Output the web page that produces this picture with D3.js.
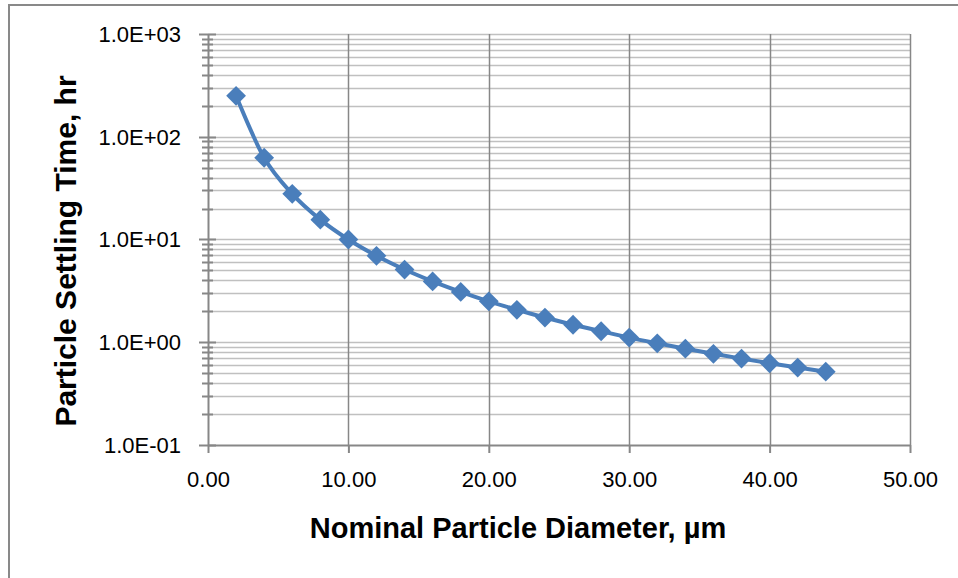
<!doctype html>
<html>
<head>
  <style type="text/css">
    body { margin: 0; background: #fff; }
    svg { display: block; }
    text { font-family: "Liberation Sans", Arial, sans-serif; fill: #000; }
    .tick-label { font-size: 22px; }
    .title { font-weight: bold; }
  </style>
  <title>Particle Settling Time</title>
</head>
<body>
<svg class="chart"></svg>

<script type="text/javascript" src="https://cdnjs.cloudflare.com/ajax/libs/d3/7.8.5/d3.min.js"></script>
<script type="text/javascript">

var width = 958,
    height = 578,
    margin = { top: 34, right: 48, bottom: 133, left: 208 },
    plotW = 910 - margin.left,
    plotH = 445 - margin.top;

// data
var diameters = [2, 4, 6, 8, 10, 12, 14, 16, 18, 20, 22, 24, 26, 28, 30, 32, 34, 36, 38, 40, 42, 44];
var settlingHours = [250, 62.5, 27.8, 15.6, 10.0, 6.94, 5.10, 3.91, 3.09, 2.50, 2.07, 1.74, 1.48, 1.28, 1.11, 0.977, 0.865, 0.772, 0.693, 0.625, 0.567, 0.517];
var xTicks = [0, 10, 20, 30, 40, 50];
var yTicks = [0.1, 1, 10, 100, 1000];
var xTitle = "Nominal Particle Diameter, \u00b5m";
var yTitle = "Particle Settling Time, hr";

var points = diameters.map(function(d, i) { return { x: d, y: settlingHours[i] }; });

var svg = d3.select(".chart")
  .attr("width", width)
  .attr("height", height);

// outer chart border
svg.append("rect")
  .attr("x", 9).attr("y", 5)
  .attr("width", width).attr("height", height)
  .attr("fill", "none")
  .attr("stroke", "#898989")
  .attr("stroke-width", 2);

var chart = svg.append("g")
  .attr("transform", "translate(" + margin.left + "," + margin.top + ")");

var x = d3.scaleLinear().domain([0, 50]).range([0, plotW]);
var y = d3.scaleLog().domain([0.1, 1000]).range([plotH, 0]);

// minor values 2..9 per decade
var minor = [];
for (var e = -1; e < 3; e++) {
  for (var m = 2; m <= 9; m++) minor.push(m * Math.pow(10, e));
}

// horizontal grid
chart.append("g").selectAll("line")
  .data(minor.concat(yTicks.slice(1)))
  .join("line")
    .attr("x1", 0).attr("x2", plotW)
    .attr("y1", function(d) { return Math.round(y(d)) + 0.5; })
    .attr("y2", function(d) { return Math.round(y(d)) + 0.5; })
    .attr("stroke", "#c0c0c0")
    .attr("stroke-width", 1.5);

// vertical grid
chart.append("g").selectAll("line")
  .data(xTicks.slice(1))
  .join("line")
    .attr("x1", function(d) { return Math.round(x(d)) + 0.5; })
    .attr("x2", function(d) { return Math.round(x(d)) + 0.5; })
    .attr("y1", 0).attr("y2", plotH)
    .attr("stroke", "#878787")
    .attr("stroke-width", 1.5);

// y axis: major ticks + minor ticks
var yAxis = chart.append("g").attr("class", "y-axis");
yAxis.append("line")
  .attr("x1", 0.5).attr("x2", 0.5).attr("y1", 0).attr("y2", plotH)
  .attr("stroke", "#878787").attr("stroke-width", 2);
yAxis.selectAll(".major")
  .data(yTicks)
  .join("line")
    .attr("class", "major")
    .attr("x1", -9).attr("x2", 8)
    .attr("y1", function(d) { return Math.round(y(d)) + 0.5; })
    .attr("y2", function(d) { return Math.round(y(d)) + 0.5; })
    .attr("stroke", "#878787").attr("stroke-width", 2);
yAxis.selectAll(".minor")
  .data(minor)
  .join("line")
    .attr("class", "minor")
    .attr("x1", -6).attr("x2", 5)
    .attr("y1", function(d) { return Math.round(y(d)) + 0.5; })
    .attr("y2", function(d) { return Math.round(y(d)) + 0.5; })
    .attr("stroke", "#878787").attr("stroke-width", 2);
yAxis.selectAll("text")
  .data(yTicks)
  .join("text")
    .attr("class", "tick-label")
    .attr("x", -27)
    .attr("y", function(d) { return y(d); })
    .attr("dy", "0.36em")
    .attr("text-anchor", "end")
    .text(function(d) { return d.toExponential(1).toUpperCase().replace(/E([+-])(\d)$/, "E$10$2"); });

// x axis
var xAxis = chart.append("g").attr("class", "x-axis")
  .attr("transform", "translate(0," + plotH + ")")
  .call(d3.axisBottom(x).tickValues(xTicks).tickSize(8).tickSizeOuter(0).tickFormat(d3.format(".2f")));
xAxis.attr("font-size", null).attr("font-family", null);
xAxis.select(".domain").attr("stroke", "#878787").attr("stroke-width", 2);
xAxis.selectAll(".tick line").attr("stroke", "#878787").attr("stroke-width", 2);
xAxis.selectAll(".tick text")
  .attr("class", "tick-label")
  .attr("fill", "#000")
  .attr("dy", null)
  .attr("y", 42);

// series line + diamond markers
var line = d3.line()
  .x(function(d) { return x(d.x); })
  .y(function(d) { return y(d.y); })
  .curve(d3.curveMonotoneX);

chart.append("path")
  .datum(points)
  .attr("d", line)
  .attr("fill", "none")
  .attr("stroke", "#4a7ebb")
  .attr("stroke-width", 4);

chart.append("g").selectAll("path")
  .data(points)
  .join("path")
    .attr("d", d3.symbol().type(d3.symbolDiamond2).size(250))
    .attr("transform", function(d) { return "translate(" + x(d.x) + "," + y(d.y) + ")"; })
    .attr("fill", "#4a7ebb");

// titles
svg.append("text")
  .attr("class", "title")
  .attr("font-size", 29)
  .attr("x", 518)
  .attr("y", 538)
  .attr("text-anchor", "middle")
  .text(xTitle);

svg.append("text")
  .attr("class", "title")
  .attr("font-size", 30)
  .attr("transform", "translate(76,251) rotate(-90)")
  .attr("text-anchor", "middle")
  .text(yTitle);

</script>
</body>
</html>
